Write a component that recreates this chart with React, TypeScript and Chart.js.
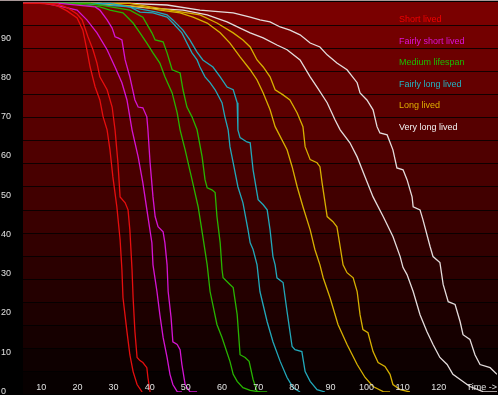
import { useEffect, useRef } from "react";
import { Chart, registerables } from "chart.js";

Chart.register(...registerables);

type Pt = [number, number];

const categories = [
  "Short lived",
  "Fairly short lived",
  "Medium lifespan",
  "Fairly long lived",
  "Long lived",
  "Very long lived",
];
const lineColors = ["#e60e0e", "#d414d4", "#28b400", "#22a8ba", "#d6b000", "#e4dcdc"];
const legendColors = ["#f00000", "#dc10dc", "#18c000", "#22b4c4", "#e0b000", "#f2f2f2"];
const xTicks = [10, 20, 30, 40, 50, 60, 70, 80, 90, 100, 110, 120];
const yTicks = [0, 10, 20, 30, 40, 50, 60, 70, 80, 90];
const xAxisTitle = "Time ->";
const xMin = 4.93;
const xMax = 136.1;
const yMax = 99.36;

const shortA: Pt[] = [[5,99],[9.6,99],[12.4,98.8],[14.6,98.3],[17.1,97.1],[19.9,95.3],[21.5,92.2],[22.6,87.2],[23.5,82.8],[24.9,77.7],[26.2,74.4],[27.1,70.1],[28.2,66.8],[29.0,61.7],[29.8,54.8],[30.9,47.2],[31.8,38.8],[32.3,31.2],[32.6,24.0],[33.7,15.4],[34.5,9.5],[35.4,5.2],[36.5,1.9],[37.9,0]];
const shortB: Pt[] = [[5,99],[11.0,99],[14.6,98.9],[17.4,97.8],[19.9,96.3],[21.3,94.8],[22.9,90.5],[24.3,87.2],[25.4,83.8],[26.2,80.3],[28.2,77.0],[29.6,72.6],[30.4,66.8],[31.2,58.4],[31.8,49.7],[33.2,48.2],[34.0,46.4],[34.5,41.3],[35.1,31.2],[35.4,24.0],[35.9,15.4],[36.5,8.8],[37.3,8.0],[38.1,7.5],[39.2,6.2],[39.5,3.7],[40.1,0]];
const fairlyShortA: Pt[] = [[5,99],[11.0,99],[16.0,98.1],[19.9,97.3],[22.6,94.8],[25.4,91.5],[28.2,87.2],[30.4,82.8],[32.3,78.8],[33.7,74.4],[35.1,66.8],[36.8,59.9],[38.1,53.3],[39.5,44.7],[40.6,38.0],[40.9,32.4],[42.0,25.6],[42.8,19.7],[43.7,13.9],[44.8,8.8],[45.6,4.5],[46.4,1.9],[47.6,0.1],[48.9,0]];
const fairlyShortB: Pt[] = [[5,99],[15.2,99],[24.9,98.1],[26.2,97.3],[28.2,94.8],[29.6,92.7],[30.4,90.5],[31.2,90.2],[32.3,89.7],[33.2,84.6],[34.5,80.3],[35.9,74.4],[36.8,72.6],[38.1,72.4],[39.2,70.1],[39.5,66.8],[40.1,58.4],[40.9,49.7],[41.5,44.7],[42.3,42.1],[43.7,40.8],[44.2,38.0],[44.8,32.4],[45.1,25.6],[45.9,19.0],[46.4,12.8],[47.6,12.1],[48.4,10.8],[48.9,7.0],[49.8,1.9],[51.1,0.1],[53.1,0]];
const mediumA: Pt[] = [[5,99],[17.9,99],[26.2,98.1],[29.0,97.3],[32.6,96.6],[35.4,94.0],[37.3,91.5],[39.2,88.9],[40.9,86.4],[42.8,83.8],[44.2,80.3],[46.2,76.2],[47.6,71.1],[48.4,66.8],[49.8,61.7],[51.7,54.1],[53.4,47.2],[54.7,39.6],[55.9,32.4],[56.7,25.6],[58.6,17.2],[60.0,13.9],[62.2,7.8],[63.1,4.5],[64.2,2.7],[65.8,1.1],[67.8,0.4],[70.5,0]];
const mediumB: Pt[] = [[5,99],[23.5,99],[34.5,97.3],[38.1,95.5],[40.6,91.5],[41.5,89.7],[43.7,89.2],[44.8,86.4],[46.2,82.1],[48.4,81.3],[49.2,77.0],[50.3,72.6],[51.7,70.1],[53.1,66.8],[54.5,59.9],[55.3,54.1],[55.9,52.0],[57.2,51.5],[58.1,50.8],[58.6,44.7],[59.5,38.0],[60.0,31.2],[60.3,29.1],[62.2,27.4],[63.1,26.6],[64.2,19.7],[65.0,9.5],[66.4,8.8],[67.5,7.8],[68.6,3.2],[69.7,0.1],[72.5,0]];
const fairlyLongA: Pt[] = [[5,99],[20.7,99],[34.5,98.1],[37.3,96.8],[40.9,96.6],[44.8,95.5],[46.4,94.0],[48.9,91.5],[50.3,88.9],[51.7,86.4],[53.1,84.6],[53.9,82.8],[55.3,80.3],[56.7,78.8],[58.1,77.0],[60.0,73.7],[60.8,70.1],[61.7,66.8],[62.2,62.5],[63.1,58.4],[64.4,52.3],[65.8,48.2],[67.2,41.3],[67.8,38.0],[68.6,36.3],[69.7,32.4],[70.5,25.6],[72.5,17.9],[74.1,12.8],[76.1,7.8],[78.0,3.7],[79.7,1.1],[81.6,0]];
const fairlyLongB: Pt[] = [[5,99],[29.0,99],[42.0,96.8],[44.8,96.1],[46.4,94.8],[49.2,92.2],[51.1,89.7],[53.1,86.6],[54.7,84.6],[57.5,82.8],[59.5,80.3],[61.4,77.7],[63.1,77.0],[64.2,73.7],[64.4,66.8],[65.0,64.8],[66.9,63.7],[67.8,63.5],[68.6,56.6],[70.0,49.0],[71.4,47.7],[72.5,46.4],[73.3,41.3],[74.1,34.5],[74.7,32.4],[75.2,29.1],[76.9,27.9],[78.0,20.5],[79.4,11.6],[80.2,10.8],[82.1,10.3],[83.0,5.2],[84.4,2.7],[86.3,0.6],[88.5,0]];
const longA: Pt[] = [[5,99],[26.2,99],[38.1,98.1],[42.8,97.3],[48.4,96.6],[52.0,95.5],[55.9,94.0],[59.5,91.5],[62.2,88.9],[65.0,85.4],[67.8,82.1],[69.7,79.5],[71.4,76.2],[73.3,71.9],[74.7,67.6],[78.0,61.7],[79.4,57.4],[80.8,52.3],[82.4,47.2],[84.4,41.3],[85.7,36.3],[87.1,32.4],[88.0,29.1],[89.9,24.0],[92.1,17.2],[94.6,12.1],[97.4,7.0],[99.6,3.7],[101.8,1.4],[104.6,0.1],[106.5,0]];
const longB: Pt[] = [[5,99],[34.5,99],[45.6,97.3],[53.9,96.1],[58.6,94.0],[63.1,91.5],[65.8,89.7],[67.8,87.9],[69.7,84.6],[71.4,82.8],[73.3,80.3],[74.7,77.0],[76.9,75.7],[78.8,74.4],[80.8,71.1],[82.4,67.6],[83.0,62.5],[84.4,59.2],[86.3,58.4],[87.1,57.4],[87.7,53.3],[89.1,44.7],[90.7,43.4],[91.8,42.1],[92.7,37.0],[93.5,32.4],[94.6,30.4],[96.3,29.1],[97.4,25.6],[98.2,19.7],[99.0,15.9],[100.4,15.1],[101.8,10.3],[103.2,7.5],[105.1,6.5],[106.5,4.5],[107.3,1.9],[109.3,0.6],[112.0,0]];
const veryLongA: Pt[] = [[5,99],[26.2,99],[40.1,97.8],[49.2,97.3],[55.9,96.1],[61.4,94.3],[65.0,92.7],[67.8,91.5],[71.4,90.2],[75.2,88.4],[78.0,87.2],[81.6,84.6],[84.4,80.3],[86.3,77.7],[89.1,73.7],[91.3,69.3],[92.7,66.8],[95.4,63.5],[97.4,59.9],[99.6,54.8],[101.8,49.7],[104.6,44.7],[107.3,39.6],[109.3,34.5],[110.1,31.7],[111.2,29.9],[112.9,25.6],[114.8,19.7],[116.7,15.4],[118.4,12.1],[120.3,8.8],[122.3,7.0],[123.9,4.5],[125.9,3.2],[128.6,1.4],[132.2,0.1],[136.1,0]];
const veryLongB: Pt[] = [[5,99],[34.5,99],[44.8,98.6],[53.9,97.3],[63.1,96.6],[67.8,95.5],[70.5,94.8],[73.3,94.3],[76.1,93.0],[78.8,92.2],[81.6,91.0],[84.4,88.9],[87.1,87.9],[89.1,85.9],[91.8,83.8],[94.6,82.1],[97.4,78.8],[98.2,76.2],[100.1,74.4],[101.8,71.9],[102.9,67.6],[103.7,66.0],[105.7,65.5],[107.3,61.7],[108.4,57.1],[110.1,56.6],[111.2,54.1],[112.6,49.7],[112.9,47.2],[114.8,46.4],[115.6,43.9],[117.6,37.0],[118.4,34.5],[120.3,33.0],[121.2,27.4],[122.6,23.0],[124.5,22.3],[125.9,17.9],[126.7,14.6],[128.6,13.4],[130.0,9.5],[131.4,7.0],[134.2,6.2],[136.1,4.5],[138.5,0]];

const seriesByCategory: Pt[][][] = [
  [shortA, shortB],
  [fairlyShortA, fairlyShortB],
  [mediumA, mediumB],
  [fairlyLongA, fairlyLongB],
  [longA, longB],
  [veryLongA, veryLongB],
];

const FONT = '9px "Liberation Sans", Arial, sans-serif';

const decorPlugin = {
  id: "decor",
  beforeDraw(chart: any) {
    const { ctx, chartArea: ca, width, height } = chart;
    ctx.save();
    ctx.fillStyle = "#000";
    ctx.fillRect(0, 0, width, height);
    const n = 17;
    const top = ca.top;
    const bottom = ca.bottom + 2;
    const h = (bottom - top) / n;
    for (let i = 0; i < n; i++) {
      const r = Math.round((122 * (n - i)) / n);
      ctx.fillStyle = `rgb(${r},0,0)`;
      const y0 = Math.round(top + i * h);
      const y1 = Math.round(top + (i + 1) * h);
      ctx.fillRect(ca.left, y0, ca.right - ca.left + 1, y1 - y0);
    }
    ctx.fillStyle = "rgba(0,0,0,0.8)";
    for (let i = 1; i < n; i++) {
      const y = Math.round(top + i * h);
      ctx.fillRect(ca.left, y, ca.right - ca.left + 1, 1);
    }
    ctx.fillStyle = "#a89898";
    ctx.fillRect(0, 0, width, 1);
    ctx.restore();
  },
  afterDraw(chart: any) {
    const { ctx, chartArea: ca, scales } = chart;
    const xs = scales.x;
    const ys = scales.y;
    ctx.save();
    ctx.font = FONT;
    ctx.textBaseline = "middle";
    ctx.fillStyle = "#e0e0e0";
    ctx.textAlign = "left";
    yTicks.forEach((v) => {
      ctx.fillText(String(v), 1, Math.round(ys.getPixelForValue(v)) - 0.5);
    });
    ctx.textAlign = "center";
    xTicks.forEach((v) => {
      ctx.fillText(String(v), xs.getPixelForValue(v), ca.bottom - 4);
    });
    ctx.textAlign = "right";
    ctx.fillText(xAxisTitle, ca.right, ca.bottom - 4);
    ctx.textAlign = "left";
    categories.forEach((c, i) => {
      ctx.fillStyle = legendColors[i];
      ctx.fillText(c, 399, 20 + i * 21.5);
    });
    ctx.restore();
  },
};

export default function App() {
  const ref = useRef<HTMLCanvasElement | null>(null);
  useEffect(() => {
    if (!ref.current) return;
    const datasets: any[] = [];
    seriesByCategory.forEach((pair, ci) => {
      pair.forEach((series) => {
        datasets.push({
          label: categories[ci],
          data: series.map(([x, y]) => ({ x, y })),
          borderColor: lineColors[ci],
          backgroundColor: lineColors[ci],
          borderWidth: 1.3,
          pointRadius: 0,
          tension: 0,
          fill: false,
        });
      });
    });
    const chart = new Chart(ref.current, {
      type: "line",
      data: { datasets },
      options: {
        animation: false,
        responsive: false,
        devicePixelRatio: 1,
        layout: { padding: { left: 23, right: 1, top: 2, bottom: 3 } },
        plugins: { legend: { display: false }, tooltip: { enabled: false } },
        scales: {
          x: { type: "linear", min: xMin, max: xMax, display: false },
          y: { type: "linear", min: 0, max: yMax, display: false },
        },
      },
      plugins: [decorPlugin],
    });
    return () => chart.destroy();
  }, []);
  return (
    <div style={{ position: "absolute", left: 0, top: 0, width: 498, height: 395, background: "#000" }}>
      <canvas ref={ref} width={498} height={395} style={{ display: "block" }} />
    </div>
  );
}
